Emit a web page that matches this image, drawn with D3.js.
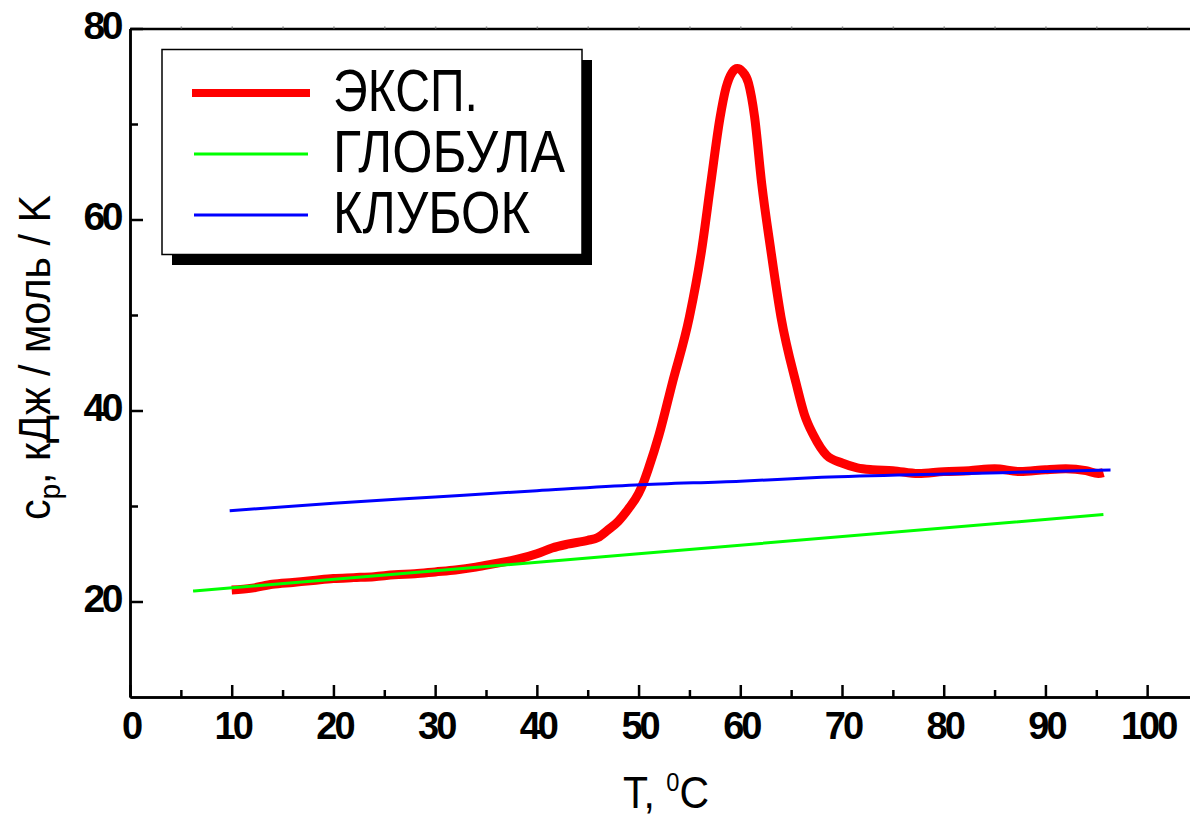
<!DOCTYPE html>
<html>
<head>
<meta charset="utf-8">
<script src="https://cdn.jsdelivr.net/npm/d3@7"></script>
<style>
  html, body { margin: 0; padding: 0; background: #fff; }
  svg { display: block; }
  text { font-family: "Liberation Sans", Arial, sans-serif; fill: #000; }
</style>
</head>
<body>
<div id="chart"></div>
<script>
// Experimental heat capacity curve (T, cp)
const expT = [10, 12, 14, 16, 18, 20, 22, 24, 26, 28, 30, 32, 34, 36, 38, 40, 41.5, 43, 45, 46, 47, 48, 49, 50, 50.5, 51, 52, 53.3, 55, 56.2, 57.1, 58, 58.6, 59.2, 59.7, 60.2, 60.8, 61.4, 62.1, 63, 64, 65.5, 66.3, 67.2, 68.5, 70, 71.5, 73, 75, 77.5, 80, 82.5, 85, 87.5, 90, 92, 94, 95.2, 95.7]
const expCp = [21.2, 21.4, 21.8, 22.0, 22.2, 22.4, 22.5, 22.6, 22.8, 22.9, 23.1, 23.3, 23.6, 24.0, 24.4, 25.0, 25.6, 26.0, 26.4, 26.7, 27.5, 28.4, 29.7, 31.3, 32.5, 34.0, 37.4, 42.8, 49.8, 56.8, 63.8, 70.6, 73.8, 75.4, 75.8, 75.5, 74.3, 70.8, 63.8, 56.8, 49.8, 42.8, 39.6, 37.4, 35.3, 34.5, 34.0, 33.8, 33.7, 33.4, 33.6, 33.7, 33.9, 33.6, 33.8, 33.9, 33.7, 33.4, 33.5]

// Native state (globule)
const globT = [6.2, 50, 95.7]
const globCp = [21.1, 25.0, 29.1]

// Unfolded state (coil)
const coilT = [9.8, 20, 30, 40, 49.7, 60, 68, 80, 90, 96.4]
const coilCp = [29.5, 30.3, 30.95, 31.6, 32.2, 32.6, 33.0, 33.35, 33.6, 33.77]

const xTicks = [0, 10, 20, 30, 40, 50, 60, 70, 80, 90, 100]
const yTicks = [20, 40, 60, 80]
const legendLabels = ['ЭКСП.', 'ГЛОБУЛА', 'КЛУБОК']

const width = 1190
const height = 814

const svg = d3.select('#chart').append('svg')
  .attr('width', width)
  .attr('height', height)

const x = d3.scaleLinear().domain([0, 105]).range([130, 1198])
const y = d3.scaleLinear().domain([10, 80]).range([697, 28.5])

const line = d3.line()
  .x(d => x(d[0]))
  .y(d => y(d[1]))
  .curve(d3.curveMonotoneX)

// Series lines
const series = [
  { pts: d3.zip(expT, expCp), color: '#ff0000', w: 9 },
  { pts: d3.zip(globT, globCp), color: '#00ff00', w: 3 },
  { pts: d3.zip(coilT, coilCp), color: '#0000ff', w: 3 }
]

series.forEach(s => {
  svg.append('path')
    .datum(s.pts)
    .attr('fill', 'none')
    .attr('stroke', s.color)
    .attr('stroke-width', s.w)
    .attr('stroke-linejoin', 'round')
    .attr('d', line)
})

// Axes
const axisStyle = g => {
  g.select('.domain').attr('stroke', '#000').attr('stroke-width', 2.5)
  g.selectAll('.tick line').attr('stroke', '#000').attr('stroke-width', 2.5)
}

const xMinor = d3.range(5, 105, 10)
const yMinor = [30, 50, 70]

svg.append('g')
  .attr('transform', 'translate(0,' + y(10) + ')')
  .call(d3.axisBottom(x).tickValues(xTicks).tickSize(-12).tickSizeOuter(0).tickFormat(''))
  .call(axisStyle)

svg.append('g')
  .attr('transform', 'translate(0,' + y(10) + ')')
  .call(d3.axisBottom(x).tickValues(xMinor).tickSize(-7).tickSizeOuter(0).tickFormat(''))
  .call(axisStyle)

svg.append('g')
  .attr('transform', 'translate(' + x(0) + ',0)')
  .call(d3.axisLeft(y).tickValues(yTicks).tickSize(-13).tickSizeOuter(0).tickFormat(''))
  .call(axisStyle)

svg.append('g')
  .attr('transform', 'translate(' + x(0) + ',0)')
  .call(d3.axisLeft(y).tickValues(yMinor).tickSize(-8).tickSizeOuter(0).tickFormat(''))
  .call(axisStyle)

svg.append('g')
  .attr('transform', 'translate(0,' + y(80) + ')')
  .call(d3.axisTop(x).tickValues(d3.range(5, 105, 5)).tickSize(2).tickSizeOuter(0).tickFormat(''))
  .call(g => {
    g.select('.domain').attr('stroke', '#000').attr('stroke-width', 2.5)
    g.selectAll('.tick line').attr('stroke', '#888').attr('stroke-width', 1.5)
  })

// Tick labels (bold, tightly set digits)
svg.append('g').selectAll('text')
  .data(xTicks)
  .enter().append('text')
    .attr('x', d => x(d) + 1)
    .attr('y', 739)
    .attr('text-anchor', 'middle')
    .attr('font-size', 38)
    .attr('font-weight', 'bold')
    .attr('letter-spacing', -3)
    .text(d => d)

svg.append('g').selectAll('text')
  .data(yTicks)
  .enter().append('text')
    .attr('x', 120)
    .attr('y', d => y(d) + 10)
    .attr('text-anchor', 'end')
    .attr('font-size', 39)
    .attr('font-weight', 'bold')
    .attr('letter-spacing', -3.5)
    .text(d => d)

// Axis titles
const xTitle = svg.append('text')
  .attr('x', 623)
  .attr('y', 808)
  .attr('font-size', 45)
  .attr('textLength', 86)
  .attr('lengthAdjust', 'spacingAndGlyphs')
xTitle.append('tspan').text('T, ')
xTitle.append('tspan').attr('font-size', 26).attr('dy', -17).text('0')
xTitle.append('tspan').attr('dy', 17).text('C')

const yTitle = svg.append('text')
  .attr('transform', 'translate(50,520) rotate(-90)')
  .attr('font-size', 45)
  .attr('textLength', 325)
  .attr('lengthAdjust', 'spacingAndGlyphs')
yTitle.append('tspan').text('c')
yTitle.append('tspan').attr('font-size', 30).attr('dy', 10).text('p')
yTitle.append('tspan').attr('dy', -10).text(', кДж / моль / K')

// Legend with drop shadow
const legend = svg.append('g')

legend.append('rect')
  .attr('x', 172).attr('y', 60)
  .attr('width', 420).attr('height', 205)
  .attr('fill', '#000')

legend.append('rect')
  .attr('x', 162).attr('y', 49.5)
  .attr('width', 420).attr('height', 205)
  .attr('fill', '#fff')
  .attr('stroke', '#000')
  .attr('stroke-width', 1.5)

const legendLen = [145, 232, 197]

legendLabels.forEach((label, i) => {
  const ly = 93 + i * 61
  legend.append('line')
    .attr('x1', i === 0 ? 192 : 194).attr('x2', i === 0 ? 310 : 308)
    .attr('y1', ly).attr('y2', ly)
    .attr('stroke', series[i].color)
    .attr('stroke-width', i === 0 ? 8 : 3)
  legend.append('text')
    .attr('x', 333)
    .attr('y', ly + 18)
    .attr('font-size', 59)
    .attr('textLength', legendLen[i])
    .attr('lengthAdjust', 'spacingAndGlyphs')
    .text(label)
})
</script>
</body>
</html>
